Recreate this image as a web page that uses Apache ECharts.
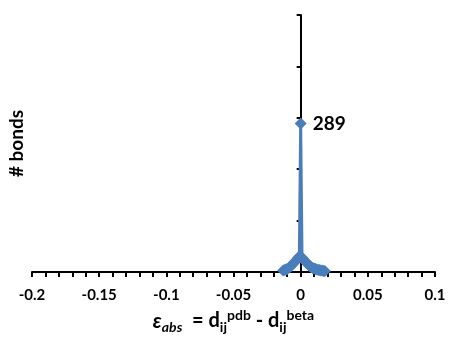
<!DOCTYPE html>
<html>
<head>
<meta charset="utf-8">
<script src="https://cdn.jsdelivr.net/npm/echarts@6/dist/echarts.min.js"></script>
<style>
  html, body { margin: 0; padding: 0; background: #fff; }
  #chart { width: 449px; height: 339px; }
</style>
</head>
<body>
<div id="chart"></div>
<script>
// error bins (d_ij^pdb - d_ij^beta) and bond counts
var errBins = [-0.013, -0.012, -0.011, -0.010, -0.009, -0.008, -0.007, -0.006, -0.005, -0.004, -0.003, -0.002, -0.001,
    0, 0.001, 0.002, 0.003, 0.004, 0.005, 0.006, 0.007, 0.008, 0.009, 0.010, 0.011, 0.012, 0.013, 0.014, 0.015, 0.016, 0.017, 0.018];
var bondCounts = [3, 4, 5, 6, 8, 10, 12, 15, 18, 21, 24, 27, 30,
    289, 28, 25, 22, 19, 16, 13, 11, 9, 8, 7, 6, 5, 4, 4, 3, 3, 2, 2];
var peakLabel = 289;

var xMin = -0.2, xMax = 0.1, xStep = 0.05;
var yMin = 0, yMax = 500, yStep = 100;

var font = 'Lato';
var blue = '#4a7ebb';

var myChart = echarts.init(document.getElementById('chart'));

var points = [];
for (var i = 0; i < errBins.length; i++) {
    var p = { value: [errBins[i], bondCounts[i]] };
    if (bondCounts[i] === peakLabel) {
        p.label = {
            show: true,
            position: 'right',
            distance: 6,
            formatter: String(peakLabel),
            color: '#000',
            fontFamily: font,
            fontWeight: 'bold',
            fontSize: 19
        };
    }
    points.push(p);
}

option = {
    animation: false,
    grid: {
        left: 32,
        right: 14,
        top: 15,
        bottom: 67,
        containLabel: false,
        outerBoundsMode: 'none'
    },
    xAxis: {
        type: 'value',
        min: xMin,
        max: xMax,
        interval: xStep,
        splitLine: { show: false },
        axisLine: { onZero: false, lineStyle: { color: '#000', width: 2 } },
        axisTick: { show: true, inside: false, length: 5, lineStyle: { color: '#000', width: 2 } },
        minorTick: { show: true, splitNumber: 5, length: 5, lineStyle: { color: '#000', width: 2 } },
        axisLabel: {
            color: '#000',
            fontFamily: font,
            fontWeight: 'bold',
            fontSize: 15,
            margin: 16
        },
        name: '{e|ε}{sub|abs}{t|  = d}{ij|ij}{sup|pdb}{t| - d}{ij|ij}{sup|beta}',
        nameLocation: 'middle',
        nameGap: 36,
        nameTextStyle: {
            rich: {
                e: { fontFamily: font, fontWeight: 'bold', fontStyle: 'italic', fontSize: 21, color: '#000', lineHeight: 26, verticalAlign: 'middle' },
                t: { fontFamily: font, fontWeight: 'bold', fontSize: 20, color: '#000', lineHeight: 26, verticalAlign: 'middle' },
                sub: { fontFamily: font, fontWeight: 'bold', fontStyle: 'italic', fontSize: 14, color: '#000', lineHeight: 26, verticalAlign: 'bottom', padding: [8, 0, 0, 0] },
                ij: { fontFamily: font, fontWeight: 'bold', fontSize: 14, color: '#000', lineHeight: 26, verticalAlign: 'bottom', padding: [8, 0, 0, 0] },
                sup: { fontFamily: font, fontWeight: 'bold', fontSize: 14, color: '#000', lineHeight: 26, verticalAlign: 'top', padding: [0, 0, 6, 0] }
            }
        }
    },
    yAxis: {
        type: 'value',
        min: yMin,
        max: yMax,
        interval: yStep,
        splitLine: { show: false },
        axisLine: { show: true, onZero: true, lineStyle: { color: '#000', width: 2 } },
        axisTick: { show: true, inside: false, length: 4, lineStyle: { color: '#000', width: 2 } },
        axisLabel: { show: false },
        name: '# bonds',
        nameLocation: 'middle',
        nameRotate: 90,
        nameGap: 6,
        nameTextStyle: {
            color: '#000',
            fontFamily: font,
            fontWeight: 'bold',
            fontSize: 19
        }
    },
    series: [
        {
            type: 'line',
            data: points,
            symbol: 'diamond',
            symbolSize: 12,
            smooth: false,
            lineStyle: { color: blue, width: 3 },
            itemStyle: { color: blue }
        }
    ]
};

myChart.setOption(option);
</script>
</body>
</html>
